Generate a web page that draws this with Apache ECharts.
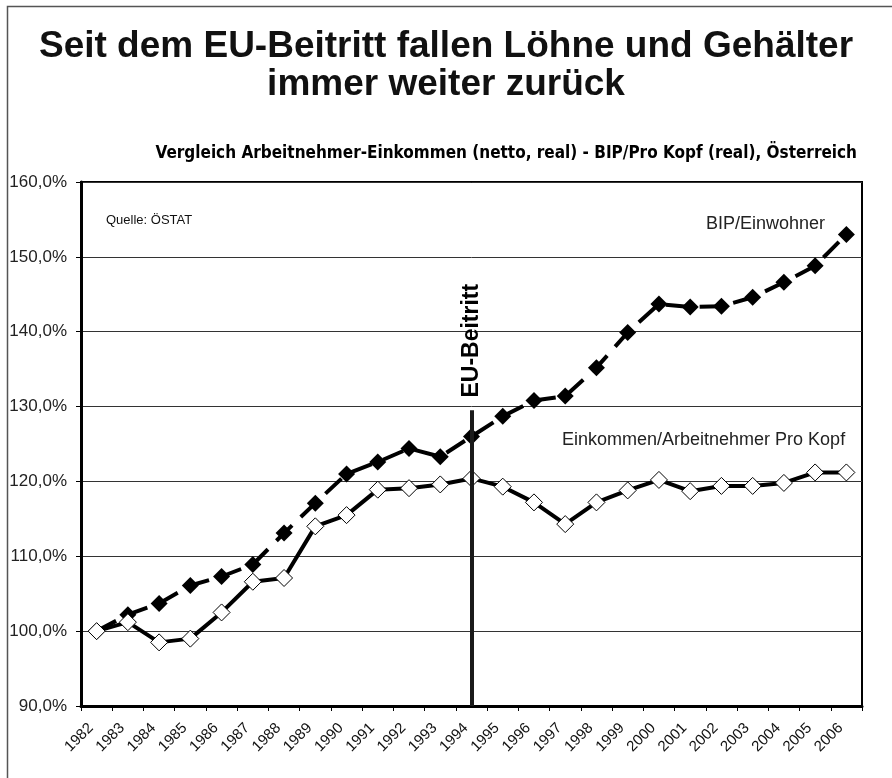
<!DOCTYPE html>
<html>
<head>
<meta charset="utf-8">
<style>
  html, body { margin: 0; padding: 0; background: #fff; }
  #chart { width: 892px; height: 778px; }
</style>
<script src="https://cdn.jsdelivr.net/npm/echarts@6/dist/echarts.min.js"></script>
</head>
<body>
<div id="chart"></div>
<script>
// --- data ---
var years = ['1982', '1983', '1984', '1985', '1986', '1987', '1988', '1989', '1990', '1991', '1992', '1993',
             '1994', '1995', '1996', '1997', '1998', '1999', '2000', '2001', '2002', '2003', '2004', '2005', '2006'];
var bipEinwohner = [100.0, 102.2, 103.7, 106.1, 107.3, 108.9, 113.1, 117.1, 121.0, 122.6, 124.4, 123.3,
                    126.0, 128.7, 130.8, 131.4, 135.2, 139.9, 143.7, 143.3, 143.4, 144.6, 146.6, 148.8, 153.0];
var einkommen = [100.0, 101.2, 98.5, 99.0, 102.5, 106.6, 107.1, 114.0, 115.5, 118.9, 119.1, 119.6,
                 120.4, 119.3, 117.2, 114.3, 117.2, 118.8, 120.2, 118.7, 119.4, 119.4, 119.8, 121.2, 121.2];
var yTicks = [90, 100, 110, 120, 130, 140, 150, 160];
var beitrittYear = '1994';
var beitrittLineTop = 129.5;
var beitrittLabelAt = 138.8;

(function() {
  var chart = echarts.init(document.getElementById('chart'), null, { renderer: 'canvas' });
  var font = '"Liberation Sans", Arial, sans-serif';

  chart.setOption({
    animation: false,
    backgroundColor: '#fff',
    title: [
      {
        text: 'Seit dem EU-Beitritt fallen Löhne und Gehälter\nimmer weiter zurück',
        left: 'center',
        top: 23,
        textStyle: { fontFamily: font, fontSize: 37, fontWeight: 'bold', color: '#111', lineHeight: 38 }
      },
      {
        text: 'Vergleich Arbeitnehmer-Einkommen (netto, real) - BIP/Pro Kopf (real), Österreich',
        right: 30,
        top: 140,
        textStyle: { fontFamily: '"DejaVu Sans Condensed", sans-serif', fontSize: 17, fontWeight: 'bold', color: '#000' }
      },
      {
        text: 'Quelle: ÖSTAT',
        left: 101,
        top: 209,
        textStyle: { fontFamily: font, fontSize: 13, fontWeight: 'normal', color: '#111' }
      },
      {
        text: 'BIP/Einwohner',
        right: 62,
        top: 210,
        textStyle: { fontFamily: font, fontSize: 18, fontWeight: 'normal', color: '#222' }
      },
      {
        text: 'Einkommen/Arbeitnehmer Pro Kopf',
        left: 557,
        top: 426,
        textStyle: { fontFamily: font, fontSize: 18, fontWeight: 'normal', color: '#222' }
      }
    ],
    graphic: [{
      type: 'rect',
      left: 5,
      top: 4,
      shape: { width: 920, height: 773 },
      style: { fill: 'none', stroke: '#555', lineWidth: 1.5 },
      silent: true
    }],
    grid: {
      left: 81,
      right: 30,
      top: 182,
      bottom: 72,
      show: true,
      borderColor: '#000',
      borderWidth: 2,
      backgroundColor: '#fff'
    },
    xAxis: {
      type: 'category',
      data: years,
      boundaryGap: true,
      axisLine: { lineStyle: { color: '#000', width: 3 } },
      axisTick: { show: true, length: 5, lineStyle: { color: '#000', width: 1 } },
      axisLabel: {
        interval: 0,
        rotate: 45,
        margin: 14,
        padding: [0, 8, 0, 0],
        fontFamily: font,
        fontSize: 15,
        color: '#111'
      },
      splitLine: { show: false }
    },
    yAxis: {
      type: 'value',
      min: yTicks[0],
      max: yTicks[yTicks.length - 1],
      interval: 10,
      axisLine: { show: true, lineStyle: { color: '#000', width: 3 } },
      axisTick: { show: true, length: 5, lineStyle: { color: '#000', width: 1 } },
      axisLabel: {
        margin: 14,
        fontFamily: font,
        fontSize: 17,
        color: '#222',
        formatter: function(v) { return v.toFixed(1).replace('.', ',') + '%'; }
      },
      splitLine: { lineStyle: { color: '#333', width: 1 } }
    },
    series: [
      {
        name: 'BIP/Einwohner',
        type: 'line',
        data: bipEinwohner,
        symbol: 'diamond',
        symbolSize: 17,
        itemStyle: { color: '#000', borderColor: '#000', borderWidth: 0 },
        lineStyle: { color: '#000', width: 4, type: [22, 12] },
        z: 3,
        markLine: {
          silent: true,
          symbol: 'none',
          label: { show: false },
          lineStyle: { color: '#1a1a1a', width: 4, type: 'solid' },
          data: [[
            { coord: [beitrittYear, yTicks[0]] },
            { coord: [beitrittYear, beitrittLineTop] }
          ]]
        },
        markPoint: {
          silent: true,
          symbol: 'rect',
          symbolSize: 1,
          itemStyle: { color: 'rgba(0,0,0,0)' },
          data: [{
            coord: [beitrittYear, beitrittLabelAt],
            label: {
              show: true,
              position: 'inside',
              rotate: 90,
              formatter: 'EU-Beitritt',
              fontFamily: font,
              fontSize: 23,
              fontWeight: 'bold',
              color: '#000'
            }
          }]
        }
      },
      {
        name: 'Einkommen/Arbeitnehmer Pro Kopf',
        type: 'line',
        data: einkommen,
        symbol: 'diamond',
        symbolSize: 17,
        itemStyle: { color: '#fff', borderColor: '#000', borderWidth: 1 },
        lineStyle: { color: '#000', width: 4, type: 'solid' },
        z: 4
      }
    ]
  });
})();
</script>
</body>
</html>
